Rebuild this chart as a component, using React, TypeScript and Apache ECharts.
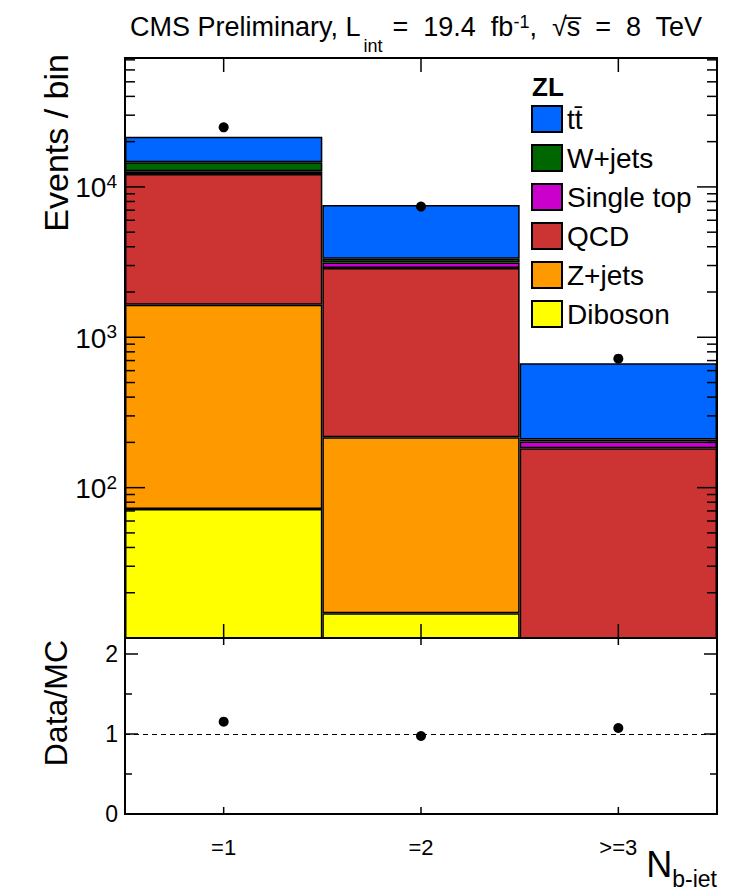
import React, { useEffect, useRef } from 'react';
import * as echarts from 'echarts';

// Jet multiplicity bins
const categories = ['=1', '=2', '>=3'];

// Stacked simulation yields per bin (events / bin)
const diboson = [72, 14.6, 1];
const zjets = [1573, 202, 4];
const qcd = [10555, 2669, 178];
const singleTop = [510, 259, 20];
const wjets = [1880, 181, 6];
const ttbar = [6990, 4264, 462];

// Observed events per bin
const dataCounts = [24900, 7400, 721];

// Axis tick positions
const logMajorTicks = [10, 100, 1000, 10000];
const logMinorTicks = [
  20, 30, 40, 50, 60, 70, 80, 90,
  200, 300, 400, 500, 600, 700, 800, 900,
  2000, 3000, 4000, 5000, 6000, 7000, 8000, 9000,
  20000, 30000, 40000, 50000, 60000, 70000,
];
const ratioMajorTicks = [1, 2];
const ratioMinorTicks = [0.5, 1.5];

const FONT = '"Liberation Sans", Arial, Helvetica, sans-serif';

const components = [
  { name: 'Diboson', values: diboson, color: '#FFFF00' },
  { name: 'Z+jets', values: zjets, color: '#FF9900' },
  { name: 'QCD', values: qcd, color: '#CC3333' },
  { name: 'Single top', values: singleTop, color: '#CC00CC' },
  { name: 'W+jets', values: wjets, color: '#006600' },
  { name: 'tt\u0304', values: ttbar, color: '#0066FF' },
];

const isPow10 = (v: number) => {
  const l = Math.log10(v);
  return Math.abs(l - Math.round(l)) < 1e-6;
};

function tickLine(x1: number, y1: number, x2: number, y2: number) {
  return {
    type: 'line',
    shape: { x1, y1, x2, y2 },
    style: { stroke: '#000', lineWidth: 1.5 },
  };
}

export default function App() {
  const ref = useRef<HTMLDivElement>(null);

  useEffect(() => {
    if (!ref.current) return;
    const chart = echarts.init(ref.current, undefined, { renderer: 'svg' });

    const totals = categories.map((_, i) =>
      components.reduce((s, c) => s + c.values[i], 0)
    );
    const ratio = dataCounts.map((d, i) => [i, d / totals[i]]);

    const barSeries = components.map((c) => ({
      name: c.name,
      type: 'bar',
      stack: 'mc',
      xAxisIndex: 0,
      yAxisIndex: 0,
      barCategoryGap: '0%',
      data: c.values,
      itemStyle: { color: c.color, borderColor: '#000', borderWidth: 1.5 },
      emphasis: { disabled: true },
      z: 2,
    }));

    const option: any = {
      animation: false,
      textStyle: { fontFamily: FONT },
      grid: [
        { left: 125, top: 58, width: 592, height: 580 },
        { left: 125, top: 638, width: 592, height: 176 },
      ],
      xAxis: [
        {
          type: 'category',
          gridIndex: 0,
          data: categories,
          boundaryGap: true,
          axisLine: { show: false },
          axisTick: { show: false },
          axisLabel: { show: false },
        },
        {
          type: 'category',
          gridIndex: 1,
          data: categories,
          boundaryGap: true,
          axisLine: { show: false },
          axisTick: { show: false },
          axisLabel: {
            show: true,
            margin: 22,
            fontSize: 22,
            color: '#000',
            fontFamily: FONT,
          },
        },
      ],
      yAxis: [
        {
          type: 'log',
          gridIndex: 0,
          min: 10,
          max: 72000,
          logBase: 10,
          axisLine: { show: false },
          axisTick: { show: false },
          splitLine: { show: false },
          axisLabel: {
            margin: 8,
            color: '#000',
            formatter: (v: number) => {
              if (!isPow10(v) || v < 50) return '';
              return `{b|10}{s|${Math.round(Math.log10(v))}}`;
            },
            rich: {
              b: { fontSize: 28, lineHeight: 30, verticalAlign: 'bottom', fontFamily: FONT, color: '#000' },
              s: { fontSize: 19, lineHeight: 20, verticalAlign: 'top', fontFamily: FONT, color: '#000' },
            },
          },
        },
        {
          type: 'value',
          gridIndex: 1,
          min: 0,
          max: 2.2,
          interval: 0.5,
          axisLine: { show: false },
          axisTick: { show: false },
          splitLine: { show: false },
          axisLabel: {
            margin: 7,
            fontSize: 23,
            color: '#000',
            fontFamily: FONT,
            formatter: (v: number) =>
              Math.abs(v - Math.round(v)) < 1e-9 ? String(Math.round(v)) : '',
          },
        },
      ],
      legend: {
        orient: 'vertical',
        left: 531,
        top: 105,
        padding: 0,
        itemWidth: 30,
        itemHeight: 26,
        itemGap: 11,
        icon: 'rect',
        selectedMode: false,
        textStyle: { fontSize: 28, color: '#000', fontFamily: FONT },
        data: ['tt\u0304', 'W+jets', 'Single top', 'QCD', 'Z+jets', 'Diboson'],
      },
      series: [
        ...barSeries,
        {
          name: 'Data',
          type: 'scatter',
          xAxisIndex: 0,
          yAxisIndex: 0,
          data: dataCounts.map((v, i) => [i, v]),
          symbol: 'circle',
          symbolSize: 10,
          itemStyle: { color: '#000', opacity: 1 },
          z: 6,
        },
        {
          name: 'Data/MC',
          type: 'scatter',
          xAxisIndex: 1,
          yAxisIndex: 1,
          data: ratio,
          symbol: 'circle',
          symbolSize: 10,
          itemStyle: { color: '#000', opacity: 1 },
          z: 6,
          markLine: {
            silent: true,
            symbol: 'none',
            label: { show: false },
            lineStyle: { color: '#000', width: 1, type: [5, 4] },
            data: [{ yAxis: 1 }],
          },
        },
        {
          // frame and inner ticks of the upper panel
          type: 'custom',
          xAxisIndex: 0,
          yAxisIndex: 0,
          silent: true,
          z: 5,
          data: [[0, 10]],
          renderItem: (params: any, api: any) => {
            const cs = params.coordSys;
            const left = cs.x;
            const right = cs.x + cs.width;
            const top = cs.y;
            const bottom = cs.y + cs.height;
            const children: any[] = [];
            logMajorTicks.forEach((v) => {
              const y = api.coord([0, v])[1];
              if (y > top + 1 && y < bottom - 1) {
                children.push(tickLine(left, y, left + 20, y));
                children.push(tickLine(right, y, right - 20, y));
              }
            });
            logMinorTicks.forEach((v) => {
              const y = api.coord([0, v])[1];
              if (y > top + 1 && y < bottom - 1) {
                children.push(tickLine(left, y, left + 10, y));
                children.push(tickLine(right, y, right - 10, y));
              }
            });
            categories.forEach((_, i) => {
              const x = api.coord([i, 10])[0];
              children.push(tickLine(x, bottom, x, bottom - 14));
              children.push(tickLine(x, top, x, top + 14));
            });
            children.push({
              type: 'rect',
              shape: { x: left, y: top, width: cs.width, height: cs.height },
              style: { fill: 'none', stroke: '#000', lineWidth: 2 },
            });
            return { type: 'group', children };
          },
        },
        {
          // frame and inner ticks of the ratio panel
          type: 'custom',
          xAxisIndex: 1,
          yAxisIndex: 1,
          silent: true,
          z: 5,
          data: [[0, 0]],
          renderItem: (params: any, api: any) => {
            const cs = params.coordSys;
            const left = cs.x;
            const right = cs.x + cs.width;
            const top = cs.y;
            const bottom = cs.y + cs.height;
            const children: any[] = [];
            ratioMajorTicks.forEach((v) => {
              const y = api.coord([0, v])[1];
              children.push(tickLine(left, y, left + 13, y));
              children.push(tickLine(right, y, right - 13, y));
            });
            ratioMinorTicks.forEach((v) => {
              const y = api.coord([0, v])[1];
              children.push(tickLine(left, y, left + 7, y));
              children.push(tickLine(right, y, right - 7, y));
            });
            categories.forEach((_, i) => {
              const x = api.coord([i, 0])[0];
              children.push(tickLine(x, bottom, x, bottom - 7));
              children.push(tickLine(x, top, x, top + 7));
            });
            children.push({
              type: 'rect',
              shape: { x: left, y: top, width: cs.width, height: cs.height },
              style: { fill: 'none', stroke: '#000', lineWidth: 2 },
            });
            return { type: 'group', children };
          },
        },
      ],
      graphic: [
        {
          type: 'text',
          left: 130,
          top: 13,
          style: {
            text: '{a|CMS Preliminary, L}{sub|int}{a|=  19.4  fb}{sup|-1}{a|,  \u221As\u0305  =  8  TeV}',
            rich: {
              a: { fontSize: 27, lineHeight: 30, verticalAlign: 'top', fontFamily: FONT, fill: '#000' },
              sub: { fontSize: 18, lineHeight: 42, verticalAlign: 'bottom', fontFamily: FONT, fill: '#000', padding: [0, 10, 0, 3] },
              sup: { fontSize: 18, lineHeight: 17, verticalAlign: 'top', fontFamily: FONT, fill: '#000' },
            },
          },
        },
        {
          type: 'text',
          x: 56,
          y: 54,
          rotation: Math.PI / 2,
          style: {
            text: 'Events / bin',
            font: `34px ${FONT}`,
            fill: '#000',
            align: 'right',
            verticalAlign: 'middle',
          },
        },
        {
          type: 'text',
          x: 56,
          y: 640,
          rotation: Math.PI / 2,
          style: {
            text: 'Data/MC',
            font: `32px ${FONT}`,
            fill: '#000',
            align: 'right',
            verticalAlign: 'middle',
          },
        },
        {
          type: 'text',
          x: 717,
          y: 846,
          style: {
            text: '{n|N}{s|b-iet}',
            align: 'right',
            verticalAlign: 'top',
            rich: {
              n: { fontSize: 36, lineHeight: 36, verticalAlign: 'top', fontFamily: FONT, fill: '#000' },
              s: { fontSize: 23, lineHeight: 44, verticalAlign: 'bottom', fontFamily: FONT, fill: '#000' },
            },
          },
        },
        {
          type: 'text',
          x: 532,
          y: 87,
          style: {
            text: 'ZL',
            font: `bold 26px ${FONT}`,
            fill: '#000',
            align: 'left',
            verticalAlign: 'middle',
          },
        },
      ],
    };

    chart.setOption(option);
    return () => chart.dispose();
  }, []);

  return (
    <div
      ref={ref}
      style={{ position: 'absolute', left: 0, top: 0, width: 741, height: 893, background: '#fff' }}
    />
  );
}
